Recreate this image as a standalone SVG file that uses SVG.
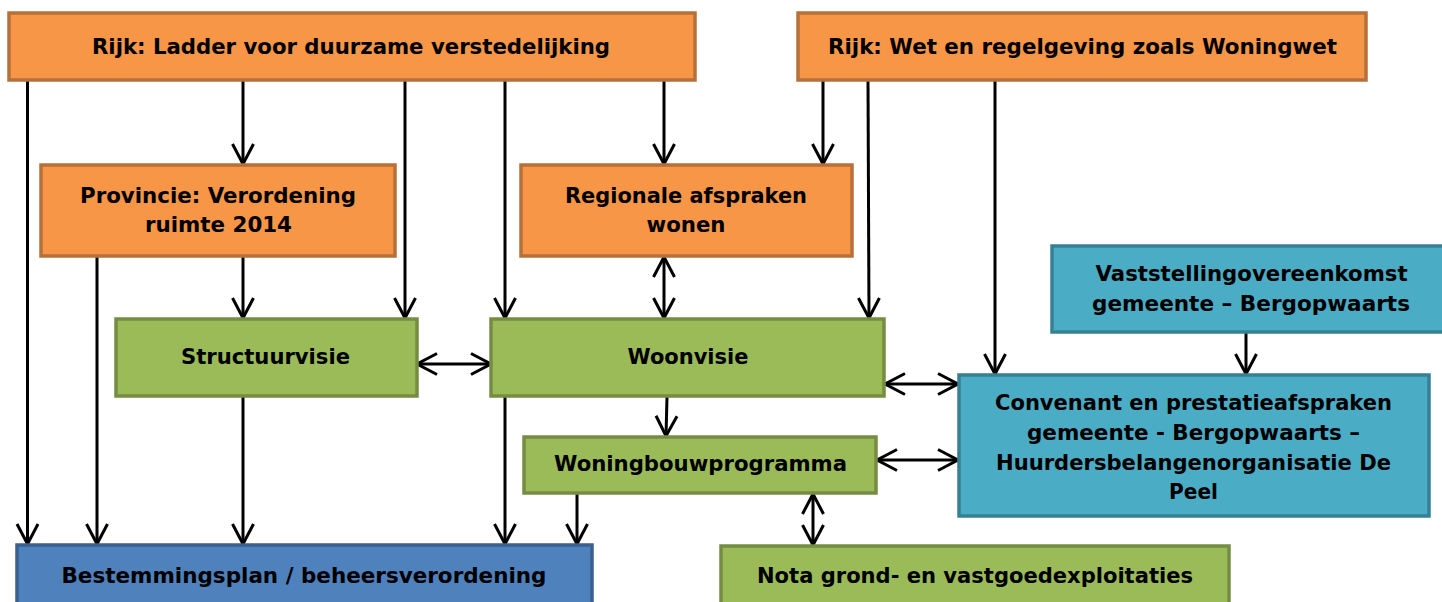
<svg xmlns="http://www.w3.org/2000/svg" width="1442" height="602" viewBox="0 0 1442 602">
<style>
.t{font-family:"DejaVu Sans","Liberation Sans",sans-serif;font-weight:bold;font-size:21px;fill:#000;text-anchor:middle}
.or{fill:#F79646;stroke:#B8703A;stroke-width:3.5}
.gr{fill:#9BBB59;stroke:#758C43;stroke-width:3.5}
.bl{fill:#4F81BD;stroke:#3A6090;stroke-width:3.5}
.tl{fill:#4BACC6;stroke:#368096;stroke-width:3.5}
.c line{stroke:#000;stroke-width:3;fill:none}
.a{marker-end:url(#ah)}
.b{marker-start:url(#ah);marker-end:url(#ah)}
</style>
<defs>
<marker id="ah" markerUnits="userSpaceOnUse" viewBox="-24 -14 28 28" markerWidth="28" markerHeight="28" refX="0" refY="0" orient="auto-start-reverse">
<path d="M-20,-10.5 L0,0 L-20,10.5" fill="none" stroke="#000" stroke-width="3"/>
</marker>
</defs>
<rect width="1442" height="602" fill="#fff"/>
<g class="c">
<line class="a" x1="27.5" y1="80" x2="27.5" y2="544"/>
<line class="a" x1="243" y1="80" x2="243" y2="164"/>
<line class="a" x1="405" y1="80" x2="405" y2="318"/>
<line class="a" x1="505" y1="80" x2="505" y2="318"/>
<line class="a" x1="664" y1="80" x2="664" y2="164"/>
<line class="a" x1="823" y1="80" x2="823" y2="164"/>
<line class="a" x1="868" y1="80" x2="869" y2="318"/>
<line class="a" x1="995" y1="80" x2="995" y2="374"/>
<line class="a" x1="97" y1="257" x2="97" y2="544"/>
<line class="a" x1="243" y1="257" x2="243" y2="318"/>
<line class="b" x1="664" y1="257" x2="664" y2="318"/>
<line class="b" x1="417" y1="364" x2="491" y2="364"/>
<line class="a" x1="243" y1="397" x2="243" y2="544"/>
<line class="a" x1="505" y1="397" x2="505" y2="544"/>
<line class="a" x1="667" y1="397" x2="666" y2="436"/>
<line class="a" x1="577" y1="494" x2="577" y2="544"/>
<line class="b" x1="885" y1="384" x2="958" y2="384"/>
<line class="b" x1="877" y1="460" x2="958" y2="460"/>
<line class="b" x1="813" y1="494" x2="813" y2="545"/>
<line class="a" x1="1246" y1="333" x2="1246" y2="374"/>
</g>
<g id="rijk-ladder"><rect class="or" x="9" y="13" width="686" height="67"/><text class="t" x="351" y="54" textLength="518" lengthAdjust="spacingAndGlyphs">Rijk: Ladder voor duurzame verstedelijking</text></g>
<g id="rijk-wet"><rect class="or" x="798" y="13" width="568" height="67"/><text class="t" x="1082.5" y="54" textLength="509" lengthAdjust="spacingAndGlyphs">Rijk: Wet en regelgeving zoals Woningwet</text></g>
<g id="provincie"><rect class="or" x="41" y="165" width="354" height="91"/><text class="t" x="218" y="203" textLength="276" lengthAdjust="spacingAndGlyphs">Provincie: Verordening</text><text class="t" x="218.5" y="232" textLength="147" lengthAdjust="spacingAndGlyphs">ruimte 2014</text></g>
<g id="regionale"><rect class="or" x="521" y="165" width="331" height="91"/><text class="t" x="686" y="203" textLength="242" lengthAdjust="spacingAndGlyphs">Regionale afspraken</text><text class="t" x="686" y="232" textLength="79" lengthAdjust="spacingAndGlyphs">wonen</text></g>
<g id="vaststelling"><rect class="tl" x="1052" y="246" width="400" height="86"/><text class="t" x="1251.6" y="281" textLength="312" lengthAdjust="spacingAndGlyphs">Vaststellingovereenkomst</text><text class="t" x="1251" y="311" textLength="318" lengthAdjust="spacingAndGlyphs">gemeente – Bergopwaarts</text></g>
<g id="structuurvisie"><rect class="gr" x="116" y="319" width="301" height="77"/><text class="t" x="265.5" y="364" textLength="169" lengthAdjust="spacingAndGlyphs">Structuurvisie</text></g>
<g id="woonvisie"><rect class="gr" x="491" y="319" width="393" height="77"/><text class="t" x="688" y="364" textLength="121" lengthAdjust="spacingAndGlyphs">Woonvisie</text></g>
<g id="woningbouwprogramma"><rect class="gr" x="524" y="437" width="352" height="56"/><text class="t" x="700.5" y="471" textLength="293" lengthAdjust="spacingAndGlyphs">Woningbouwprogramma</text></g>
<g id="convenant"><rect class="tl" x="959" y="375" width="470" height="141"/><text class="t" x="1193.5" y="410" textLength="397" lengthAdjust="spacingAndGlyphs">Convenant en prestatieafspraken</text><text class="t" x="1193.5" y="440" textLength="333" lengthAdjust="spacingAndGlyphs">gemeente - Bergopwaarts –</text><text class="t" x="1193.5" y="470" textLength="395" lengthAdjust="spacingAndGlyphs">Huurdersbelangenorganisatie De</text><text class="t" x="1193.5" y="499" textLength="49" lengthAdjust="spacingAndGlyphs">Peel</text></g>
<g id="bestemmingsplan"><rect class="bl" x="17" y="545" width="575" height="70"/><text class="t" x="304" y="583" textLength="485" lengthAdjust="spacingAndGlyphs">Bestemmingsplan / beheersverordening</text></g>
<g id="nota"><rect class="gr" x="721" y="546" width="508" height="70"/><text class="t" x="975" y="583" textLength="436" lengthAdjust="spacingAndGlyphs">Nota grond- en vastgoedexploitaties</text></g>
</svg>
